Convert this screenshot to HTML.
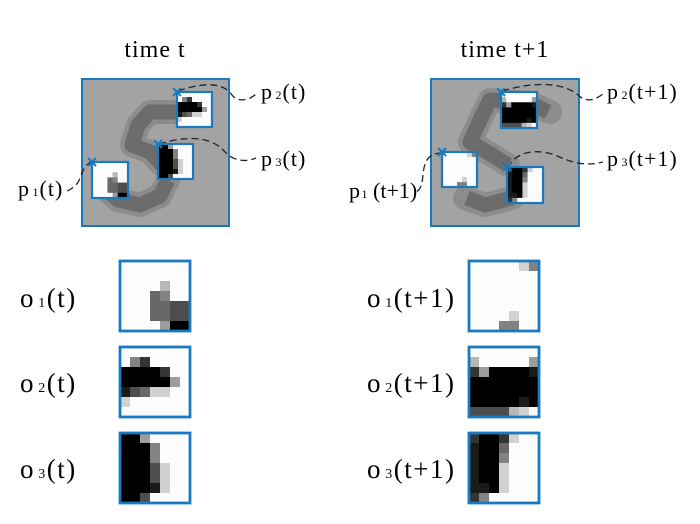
<!DOCTYPE html>
<html><head><meta charset="utf-8"><style>
body{margin:0;background:#fff}
svg{display:block;font-family:"Liberation Serif",serif}
</style></head><body>
<svg id="fig" width="700" height="524" viewBox="0 0 700 524">
<text x="155" y="57" font-size="24" text-anchor="middle" letter-spacing="1">time t</text>
<text x="505" y="57" font-size="24" text-anchor="middle" letter-spacing="1">time t+1</text>

<g>
<rect x="82" y="79" width="147" height="147" fill="#a3a3a3"/>
<path d="M180,112 L150,112 L138,125 L132,145 L150,152 L162,165 M168,180 L160,196 L140,205 L118,200 L108,192" fill="none" stroke="#8c8c8c" stroke-width="24" stroke-linejoin="round" stroke-linecap="round"/>
<path d="M178,112 L150,112 L138,125 L132,145 L150,152 L162,165 M168,180 L160,196 L140,205 L118,200 L110,193" fill="none" stroke="#6c6c6c" stroke-width="15" stroke-linejoin="round"/>
<rect x="82" y="79" width="147" height="147" fill="none" stroke="#1a7abf" stroke-width="2"/>
</g>
<g>
<rect x="431" y="79" width="148" height="147" fill="#a3a3a3"/>
<path d="M550,112 L530,103 L490,100 L480,120 L470,142 L492,155 L508,165 M512,198 L485,205 L465,198" fill="none" stroke="#8c8c8c" stroke-width="24" stroke-linejoin="round" stroke-linecap="round"/>
<path d="M548,112 L530,103 L490,100 L480,120 L470,142 L492,155 L508,165 M512,198 L485,205 L467,198" fill="none" stroke="#6c6c6c" stroke-width="15" stroke-linejoin="round"/>
<rect x="431" y="79" width="148" height="147" fill="none" stroke="#1a7abf" stroke-width="2"/>
</g>

<g fill="none" stroke="#222" stroke-width="1.3" stroke-dasharray="7,4">
<path d="M178,91 C210,80 225,85 232,95 C238,103 250,100 256,94"/>
<path d="M159,144 C195,133 215,140 225,152 C232,160 245,163 256,158"/>
<path d="M92,161 C80,168 82,180 75,186 C70,190 66,192 64,192"/>
<path d="M502,91 C540,80 565,84 578,95 C586,103 595,100 603,94"/>
<path d="M508,168 C515,152 535,148 555,155 C570,162 585,167 603,162"/>
<path d="M442,153 C428,153 424,162 423,175 C422,186 420,190 416,192"/>
</g>

<g font-size="22" letter-spacing="1">
<text x="261" y="99">p <tspan font-size="12" dx="-4">2</tspan>(t)</text>
<text x="261" y="166">p <tspan font-size="12" dx="-4">3</tspan>(t)</text>
<text x="18" y="196">p <tspan font-size="12" dx="-4">1</tspan>(t)</text>
<text x="607" y="99">p <tspan font-size="12" dx="-4">2</tspan>(t+1)</text>
<text x="607" y="166">p <tspan font-size="12" dx="-4">3</tspan>(t+1)</text>
<text x="349" y="198" letter-spacing="0">p <tspan font-size="12" dx="-4">1</tspan> (t+1)</text>
</g>

<g font-size="27" letter-spacing="1.5">
<text x="20" y="307">o <tspan font-size="14" dx="-5">1</tspan>(t)</text>
<text x="20" y="392">o <tspan font-size="14" dx="-5">2</tspan>(t)</text>
<text x="20" y="478">o <tspan font-size="14" dx="-5">3</tspan>(t)</text>
<text x="367" y="307">o <tspan font-size="14" dx="-5">1</tspan>(t+1)</text>
<text x="367" y="392">o <tspan font-size="14" dx="-5">2</tspan>(t+1)</text>
<text x="367" y="478">o <tspan font-size="14" dx="-5">3</tspan>(t+1)</text>
</g>
<g id="patches"></g>
</svg>
<script>
const o1t=["9999999","9999999","9999799","9994599","9994433","9994433","9999600"];
const o2t=["9999999","9529999","0000299","0000069","1348899","8999999","9999999"];
const o3t=["0069999","0005999","0005999","0003899","0003899","0001899","0039999"];
const o1t1=["9999985","9999999","9999999","9999999","9999999","9999899","9995599"];
const o2t1=["9999999","7999996","2600001","0000000","0000000","0000010","3333789"];
const o3t1=["2002899","1004999","1005999","1008999","1008999","1108999","2599999"];
const NS="http://www.w3.org/2000/svg";
const g=document.getElementById('patches');
function patch(grid,x,y,s,name,mark){
  const n=grid.length,c=s/n;
  const grp=document.createElementNS(NS,'g');
  
  
  grid.forEach((row,r)=>{[...row].forEach((v,k)=>{
    const e=document.createElementNS(NS,'rect');
    e.setAttribute('x',x+k*c);e.setAttribute('y',y+r*c);
    e.setAttribute('width',c+0.4);e.setAttribute('height',c+0.4);
    const l=v==='9'?252:Math.round(+v/9*235);
    e.setAttribute('fill',`rgb(${l},${l},${l})`);
    
    
    grp.appendChild(e);
  });});
  const b=document.createElementNS(NS,'rect');
  b.setAttribute('x',x);b.setAttribute('y',y);b.setAttribute('width',s);b.setAttribute('height',s);
  b.setAttribute('fill','none');b.setAttribute('stroke','#1a7abf');b.setAttribute('stroke-width',mark?2.2:2.8);
  
  
  grp.appendChild(b);
  if(mark){
    const m=document.createElementNS(NS,'path');
    m.setAttribute('d',`M${x-4},${y-4}L${x+4},${y+4}M${x+4},${y-4}L${x-4},${y+4}`);
    m.setAttribute('stroke','#1a7abf');m.setAttribute('stroke-width','2');
    
    
    grp.appendChild(m);
  }
  g.appendChild(grp);
}
patch(o1t,92,162,36,'glimpse-p1-t',true);
patch(o2t,177,92,35,'glimpse-p2-t',true);
patch(o3t,158,144,35,'glimpse-p3-t',true);
patch(o1t1,442,152,35,'glimpse-p1-t1',true);
patch(o2t1,501,92,36,'glimpse-p2-t1',true);
patch(o3t1,507,167,36,'glimpse-p3-t1',true);
patch(o1t,120,261,70,'observation-o1-t',false);
patch(o2t,120,347,70,'observation-o2-t',false);
patch(o3t,120,433,70,'observation-o3-t',false);
patch(o1t1,469,261,70,'observation-o1-t1',false);
patch(o2t1,469,347,70,'observation-o2-t1',false);
patch(o3t1,469,433,70,'observation-o3-t1',false);
</script>
</body></html>
